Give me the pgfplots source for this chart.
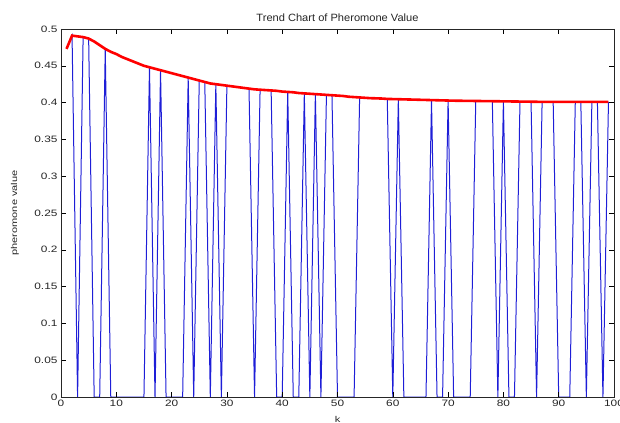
\documentclass[border=0pt]{standalone}
\usepackage{pgfplots}
\pgfplotsset{compat=1.18}
\usepackage{pgfplotstable}
\usepackage{fontspec}
\setmainfont{Liberation Sans}
\newfontfamily\tickfont[FakeStretch=1.28]{Liberation Sans}
\newfontfamily\labfont[FakeStretch=1.3]{Liberation Sans}
\newfontfamily\titfont[FakeStretch=1.05]{Liberation Sans}
\definecolor{mblue}{RGB}{30,30,215}
\definecolor{mred}{RGB}{255,0,0}
\pgfplotstableread{
x red blue
1 0.473 0.473
2 0.491 0.491
3 0.490 0
4 0.489 0.489
5 0.487 0.487
6 0.483 0
7 0.478 0
8 0.473 0.473
9 0.469 0
10 0.466 0
11 0.462 0
12 0.459 0
13 0.456 0
14 0.453 0
15 0.450 0
16 0.448 0.448
17 0.446 0
18 0.444 0.444
19 0.442 0
20 0.440 0
21 0.438 0
22 0.436 0
23 0.434 0.434
24 0.432 0
25 0.430 0.430
26 0.428 0.428
27 0.426 0
28 0.425 0.425
29 0.424 0
30 0.423 0.423
31 0.422 0.422
32 0.421 0.421
33 0.420 0.420
34 0.419 0.419
35 0.418 0
36 0.4175 0.4175
37 0.417 0.417
38 0.4165 0.4165
39 0.416 0
40 0.415 0
41 0.4145 0.4145
42 0.414 0
43 0.413 0
44 0.4125 0.4125
45 0.412 0
46 0.4115 0.4115
47 0.411 0
48 0.4105 0.4105
49 0.410 0.410
50 0.4095 0
51 0.409 0
52 0.408 0
53 0.4075 0
54 0.407 0.407
55 0.4065 0.4065
56 0.406 0.406
57 0.4058 0.4058
58 0.4055 0.4055
59 0.405 0.405
60 0.4048 0
61 0.4046 0.4046
62 0.4044 0
63 0.4042 0
64 0.404 0
65 0.4038 0
66 0.4036 0
67 0.4034 0.4034
68 0.4032 0
69 0.403 0
70 0.4028 0.4028
71 0.4026 0
72 0.4025 0
73 0.4024 0
74 0.4023 0
75 0.4022 0.4022
76 0.4021 0.4021
77 0.402 0.402
78 0.4019 0.4019
79 0.4018 0
80 0.4017 0.4017
81 0.4016 0
82 0.4015 0
83 0.4014 0.4014
84 0.4013 0.4013
85 0.4012 0.4012
86 0.4011 0
87 0.401 0.401
88 0.401 0.401
89 0.401 0.401
90 0.401 0
91 0.401 0
92 0.401 0
93 0.401 0.401
94 0.401 0.401
95 0.401 0
96 0.401 0.401
97 0.401 0.401
98 0.401 0
99 0.401 0.401
}\datatable

\begin{document}
\begin{tikzpicture}
\begin{axis}[
  at={(0,0)}, anchor=south west,
  scale only axis, width=553bp, height=368bp,
  xmin=0, xmax=100, ymin=0, ymax=0.5,
  axis on top,
  xtick={0,10,20,30,40,50,60,70,80,90,100},
  xticklabels={0,10,20,30,40,50,60,70,80,90,100},
  ytick={0,0.05,0.1,0.15,0.2,0.25,0.3,0.35,0.4,0.45,0.5},
  yticklabels={0,0.05,0.1,0.15,0.2,0.25,0.3,0.35,0.4,0.45,0.5},
  /pgf/number format/assume math mode=true,
  tick align=inside,
  major tick length=5bp,
  tick style={black, line width=0.5bp},
  axis line style={black!85, line width=0.7bp},
  ticklabel style={font=\tickfont\fontsize{9.3}{11}\selectfont, text=black!85},
  every axis title/.style={at={(axis description cs:0.5,1.0217)}, anchor=base, font=\titfont\fontsize{10.6}{12}\selectfont, text=black!85},
  title={Trend Chart of Pheromone Value},
  every axis x label/.style={at={(axis description cs:0.5,-0.068)}, anchor=base, font=\labfont\fontsize{8.5}{10}\selectfont, text=black!85},
  xlabel={k},
  every axis y label/.style={at={(axis description cs:-0.0832,0.5)}, rotate=90, anchor=center, font=\labfont\fontsize{8.5}{10}\selectfont, text=black!85},
  ylabel={pheromone value},
]
\addplot[mblue, line width=1bp, line join=miter] table[x=x,y=blue] {\datatable};
\addplot[mred, line width=2.6bp] table[x=x,y=red] {\datatable};
\end{axis}
\pgfresetboundingbox
\path[use as bounding box] (-61bp,-26bp) rectangle (559bp,397bp);
\end{tikzpicture}
\end{document}
